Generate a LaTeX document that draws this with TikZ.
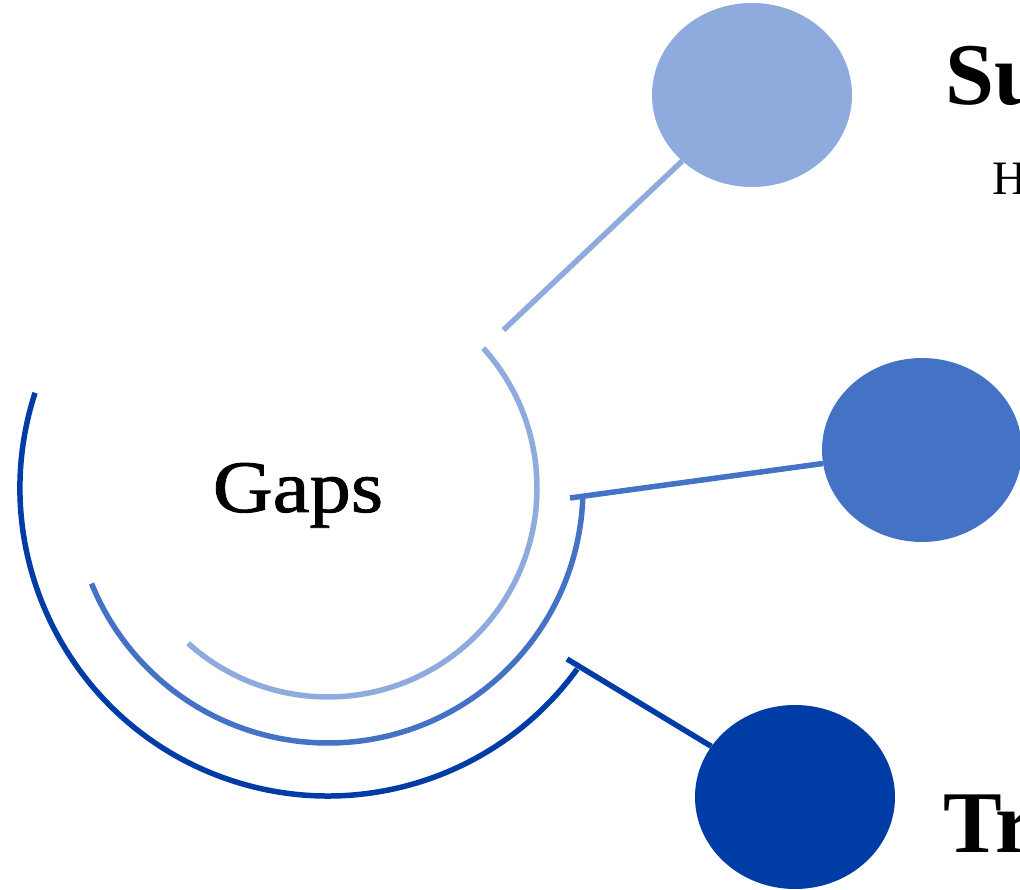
\documentclass[tikz,border=0pt]{standalone}
\usepackage{fontspec}
\setmainfont{Liberation Serif}
\newfontfamily\hubfont[FakeStretch=1.12,FakeBold=1.2]{Liberation Serif}
\usetikzlibrary{shapes.geometric,calc}
\definecolor{tintA}{HTML}{8FAADC}
\definecolor{tintB}{HTML}{4472C4}
\definecolor{tintC}{HTML}{003CA6}
\tikzset{
  bubble/.style={ellipse, draw=none, minimum width=200pt, minimum height=184pt, inner sep=0pt},
  ring/.style={line width=5.5pt},
  title/.style={inner sep=0pt, anchor=base west, font=\fontsize{88}{90}\selectfont\bfseries},
  subtitle/.style={inner sep=0pt, anchor=base west, font=\fontsize{48}{50}\selectfont}
}
\begin{document}
\begin{tikzpicture}[x=1pt,y=1pt]
  \useasboundingbox (0,0) rectangle (1020,889);
  \coordinate (C) at (328,401);

  % concentric rings around the centre label
  \draw[ring, tintA] (C) ++(42:209) arc[start angle=42, end angle=-132, radius=209];
  \draw[ring, tintB] (C) ++(-2.5:255) arc[start angle=-2.5, end angle=-158, radius=255];
  \draw[ring, tintC] (C) ++(162:308) arc[start angle=162, end angle=324, radius=308];

  % bubbles
  \node[bubble, fill=tintA] (b1) at (752,794) {};
  \node[bubble, fill=tintB] (b2) at (922,439) {};
  \node[bubble, fill=tintC] (b3) at (795,92) {};

  % connectors
  \coordinate (s1) at ($(C)+(42:236)$);
  \coordinate (s2) at (570,391);
  \coordinate (s3) at (567,230);
  \draw[ring, tintA] (s1) -- (b1);
  \draw[ring, tintB] (s2) -- (b2);
  \draw[ring, tintC] (s3) -- (b3);

  % labels
  \node[inner sep=0pt, anchor=base, font=\hubfont\fontsize{74}{76}\selectfont] (gaps) at (298,377) {Gaps};
  \node[title] (t1) at (945,784) {Su};
  \node[subtitle] (t1sub) at (992,694) {H};
  \node[title] (t3) at (943,37) {Tr};
\end{tikzpicture}
\end{document}
